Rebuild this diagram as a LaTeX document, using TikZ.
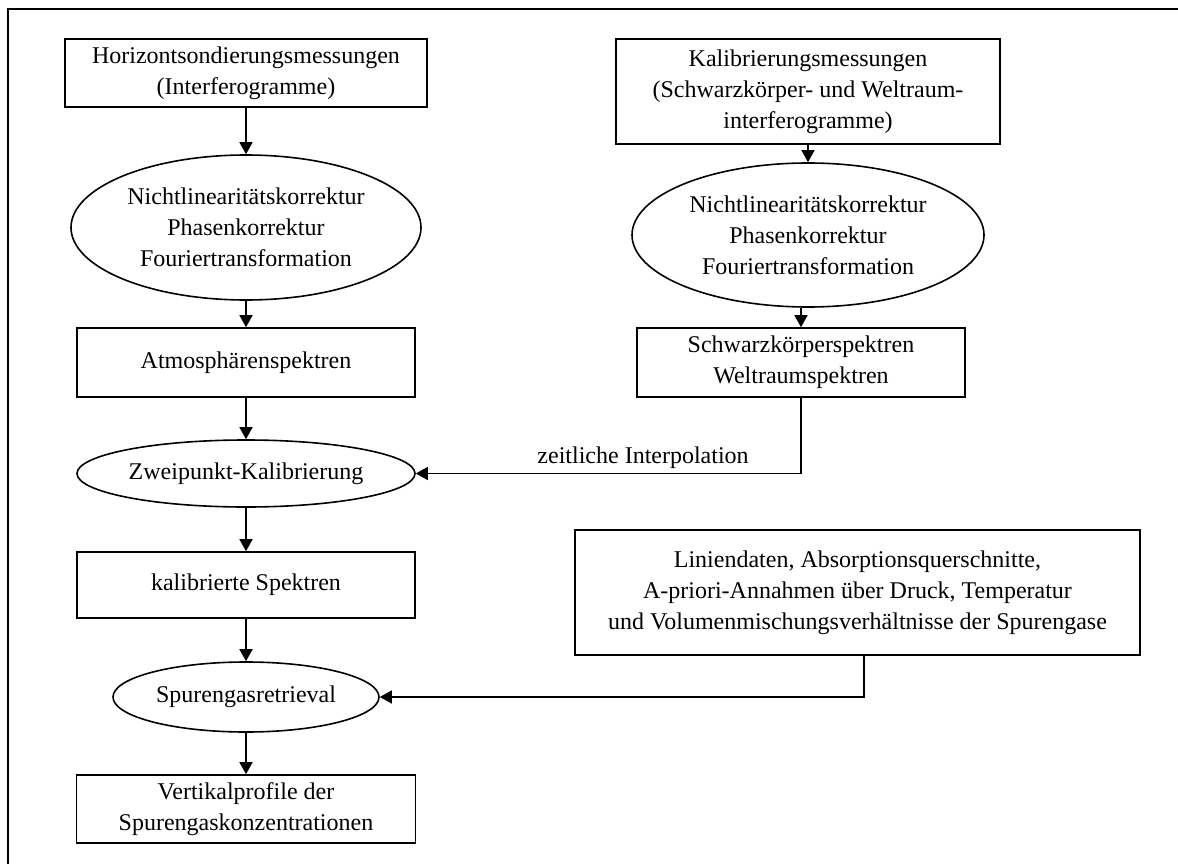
\documentclass[tikz,border=0pt]{standalone}
\usepackage{fontspec}
\setmainfont{Liberation Serif}
\usetikzlibrary{shapes.geometric, arrows.meta}

\tikzset{
  kasten/.style={draw, line width=1.6pt, rectangle, align=center, inner sep=2pt},
  oval/.style={draw, line width=1.6pt, ellipse, align=center, inner sep=0pt},
  pfeil/.style={line width=1.5pt, -{Triangle[length=12pt,width=13pt]}}
}

\begin{document}
\begin{tikzpicture}[x=1pt, y=-1pt, font=\fontsize{24}{31}\selectfont]
    \useasboundingbox (0,0) rectangle (1178,864);

    % Rahmen (nur links und oben sichtbar)
    \draw[line width=1.6pt] (8,864) -- (8,9) -- (1178,9);

    % linke Kette
    \node[kasten, minimum width=362pt, minimum height=68pt] (hsm) at (246,73)
        {Horizontsondierungsmessungen\\(Interferogramme)};
    \node[oval, minimum width=350pt, minimum height=145pt] (nlka) at (246,227.5)
        {Nichtlinearitätskorrektur\\Phasenkorrektur\\Fouriertransformation};
    \node[kasten, minimum width=338pt, minimum height=69pt] (atm) at (246,362.5)
        {Atmosphärenspektren};
    \node[oval, minimum width=338pt, minimum height=67pt] (zpk) at (246,473.5)
        {Zweipunkt-Kalibrierung};
    \node[kasten, minimum width=338pt, minimum height=66pt] (kal) at (246,585)
        {kalibrierte Spektren};
    \node[oval, minimum width=266pt, minimum height=70pt] (sgr) at (246,697)
        {Spurengasretrieval};
    \node[kasten, minimum width=339pt, minimum height=68pt] (vpr) at (246,809)
        {Vertikalprofile der\\Spurengaskonzentrationen};

    % rechte Kette
    \node[kasten, minimum width=384pt, minimum height=105pt] (kmg) at (808,91.5)
        {Kalibrierungsmessungen\\(Schwarzkörper- und Weltraum-\\interferogramme)};
    \node[oval, minimum width=352pt, minimum height=144pt] (nlkb) at (808,235)
        {Nichtlinearitätskorrektur\\Phasenkorrektur\\Fouriertransformation};
    \node[kasten, minimum width=328pt, minimum height=69pt] (sws) at (801,362.5)
        {Schwarzkörperspektren\\Weltraumspektren};
    \node[kasten, minimum width=565pt, minimum height=125pt] (lin) at (857.5,592.5)
        {Liniendaten, Absorptionsquerschnitte,\\A-priori-Annahmen über Druck, Temperatur\\und Volumenmischungsverhältnisse der Spurengase};

    % Pfeile
    \draw[pfeil] (hsm) -- (nlka);
    \draw[pfeil] (nlka) -- (atm);
    \draw[pfeil] (atm) -- (zpk);
    \draw[pfeil] (zpk) -- (kal);
    \draw[pfeil] (kal) -- (sgr);
    \draw[pfeil] (sgr) -- (vpr);
    \draw[pfeil] (kmg) -- (nlkb);
    \draw[pfeil] (sws.north |- nlkb.south) -- (sws.north);
    \draw[pfeil] (sws.south) |- (zpk.east)
        node[pos=0.705, above, inner sep=4pt] {zeitliche Interpolation};
    \draw[pfeil] ([xshift=6.5pt]lin.south) |- (sgr.east);
\end{tikzpicture}
\end{document}
